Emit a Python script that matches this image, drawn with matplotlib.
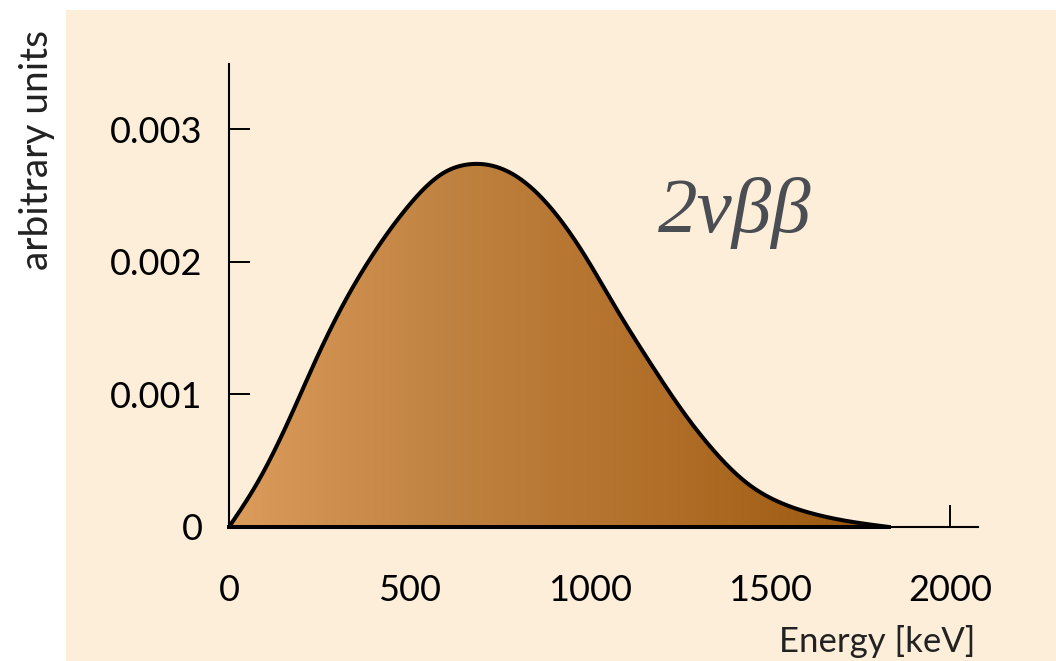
import numpy as np
import matplotlib.pyplot as plt
from matplotlib.colors import LinearSegmentedColormap
from matplotlib.patches import Rectangle, Polygon

# spectrum (energy in keV, intensity in arbitrary units)
energy = [0, 80, 175, 239, 313, 405, 497, 591, 662, 799, 890, 982,
          1076, 1168, 1259, 1343, 1437, 1528, 1620, 1714, 1830]
intensity = [0.0, 0.34, 0.86, 1.25, 1.66, 2.08, 2.42, 2.665, 2.735,
             2.642, 2.415, 2.068, 1.638, 1.238, 0.87, 0.58, 0.33,
             0.185, 0.10, 0.045, 0.0]
intensity = [v * 1e-3 for v in intensity]

xticks = [0, 500, 1000, 1500, 2000]
xticklabels = ['0', '500', '1000', '1500', '2000']
yticks = [0, 0.001, 0.002, 0.003]
yticklabels = ['0', '0.001', '0.002', '0.003']


def spline(x, y, xn):
    # natural cubic spline through the points (numpy only)
    x = np.asarray(x, float)
    y = np.asarray(y, float)
    n = len(x)
    h = np.diff(x)
    A = np.zeros((n, n))
    b = np.zeros(n)
    A[0, 0] = A[-1, -1] = 1
    for i in range(1, n - 1):
        A[i, i - 1] = h[i - 1]
        A[i, i] = 2 * (h[i - 1] + h[i])
        A[i, i + 1] = h[i]
        b[i] = 3 * ((y[i + 1] - y[i]) / h[i] - (y[i] - y[i - 1]) / h[i - 1])
    c = np.linalg.solve(A, b)
    bb = np.diff(y) / h - h * (2 * c[:-1] + c[1:]) / 3
    d = np.diff(c) / (3 * h)
    idx = np.clip(np.searchsorted(x, xn) - 1, 0, n - 2)
    t = xn - x[idx]
    return y[idx] + bb[idx] * t + c[idx] * t**2 + d[idx] * t**3


W, H = 1056, 661
fig = plt.figure(figsize=(W / 100, H / 100), dpi=100)
fig.patch.set_facecolor('white')

# cream panel behind the plot
fig.patches.append(Rectangle((66 / W, 0), 1 - 66 / W, (H - 10) / H,
                             transform=fig.transFigure, facecolor='#fdeeda',
                             edgecolor='none', zorder=-5))

x0, x1 = 229, 978
y0, y1 = 527, 64
ax = fig.add_axes([x0 / W, (H - y0) / H, (x1 - x0) / W, (y0 - y1) / H])
ax.set_facecolor('none')
ax.set_xlim(0, 2077)
ax.set_ylim(0, 0.003493)

e = np.array(energy, dtype=float)
ee = np.linspace(0, e[-1], 800)
vv = np.clip(spline(e, intensity, ee), 0, None)

# gradient fill clipped to the area under the curve
cmap = LinearSegmentedColormap.from_list('br', ['#dc9c5c', '#c08240', '#b06e28', '#98560c'])
grad = np.linspace(0, 1, 256).reshape(1, -1)
im = ax.imshow(grad, extent=(0, e[-1], 0, 0.0029), aspect='auto', cmap=cmap,
               origin='lower', zorder=2, interpolation='bilinear')
poly = Polygon(np.column_stack([np.r_[ee, 0], np.r_[vv, 0]]), closed=True,
               facecolor='none', edgecolor='none', transform=ax.transData)
ax.add_patch(poly)
im.set_clip_path(poly)

ax.plot(ee, vv, color='black', lw=2.9, zorder=3, solid_capstyle='round')
ax.plot([0, e[-1]], [0, 0], color='black', lw=2.9, zorder=3, clip_on=False)

for s in ['top', 'right']:
    ax.spines[s].set_visible(False)
ax.spines['left'].set_linewidth(1.5)
ax.spines['bottom'].set_linewidth(1.5)
ax.spines['left'].set_zorder(1)
ax.spines['bottom'].set_zorder(1)

font = 'Lato'
ax.set_xticks(xticks)
ax.set_xticklabels(xticklabels, fontsize=26, family=font)
ax.set_yticks(yticks)
ax.set_yticklabels(yticklabels, fontsize=26, family=font)
ax.tick_params(axis='x', direction='in', length=16, width=1.4, pad=34)
ax.tick_params(axis='y', direction='in', length=15, width=1.4, pad=19)

fig.text(975 / W, 1 - 642 / H, 'Energy [keV]', ha='right', va='center',
         fontsize=25, family=font, color='#222222')
fig.text(37 / W, 1 - 30 / H, 'arbitrary units', ha='center', va='top',
         rotation=90, fontsize=28, family=font, color='#222222')

fig.text(735 / W, 1 - 213 / H, '2νββ', ha='center', va='center', fontsize=57,
         family='Liberation Serif', style='italic', color='#4a4d52')

fig.savefig('out.png', dpi=100)
